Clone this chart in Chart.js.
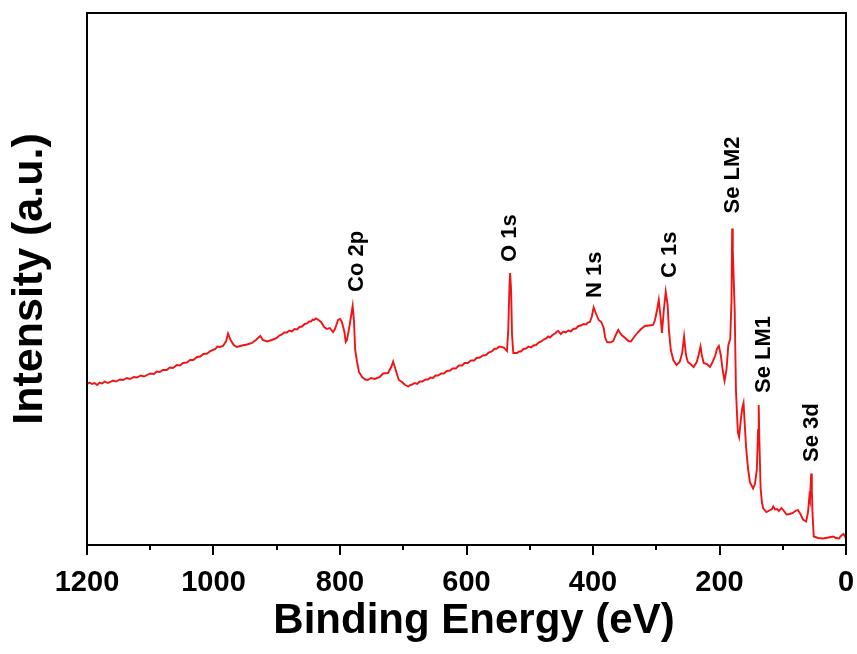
<!DOCTYPE html>
<html>
<head>
<meta charset="utf-8">
<title>XPS survey spectrum</title>
<script src="https://cdn.jsdelivr.net/npm/chart.js@4/dist/chart.umd.min.js"></script>
<style>
  html, body { margin: 0; padding: 0; background: #fff; }
  #wrap { width: 857px; height: 654px; position: relative; }
</style>
</head>
<body>
<div id="wrap"><canvas id="xps"></canvas></div>
<script>
// Survey scan: binding energy (eV) and intensity (a.u.)
const bindingEnergy = [
  1200, 1196, 1192, 1188, 1184, 1180, 1176, 1172, 1167, 1163, 1159, 1154, 1148, 1143, 1137, 1132,
  1126, 1121, 1115, 1110, 1105, 1100, 1094, 1090, 1085, 1080, 1074, 1069, 1064, 1058, 1053, 1048,
  1042, 1037, 1032, 1026, 1021, 1016, 1010, 1005, 1001, 997, 994, 990, 985, 980, 977, 973, 968,
  963, 955, 947, 939, 933, 926, 922, 915, 908, 904, 900, 896, 892, 888, 884, 880, 876, 872, 868,
  864, 860, 856, 852, 849, 846, 843, 841, 838, 835, 830, 825, 821, 816, 811, 808, 803, 800, 797,
  793, 791, 789, 786, 783, 780, 778, 776, 773, 770, 765, 760, 756, 751, 745, 737, 732, 724, 719,
  716, 711, 707, 702, 697, 692, 689, 686, 682, 678, 674, 670, 665, 661, 657, 653, 649, 645, 640,
  636, 631, 626, 622, 617, 612, 607, 603, 598, 593, 588, 584, 579, 574, 569, 565, 560, 556, 552,
  548, 545, 541, 536, 534, 532, 531, 529.5, 528, 526, 520, 517, 514, 510, 506, 502, 498, 494, 490,
  486, 482, 478, 474, 471, 468, 464, 460, 457, 455, 451, 447, 443, 439, 435, 431, 427, 423, 419,
  415, 411, 408, 405, 402, 399, 395, 391, 387, 383, 381, 378, 373, 368, 364, 360, 357, 354, 349,
  344, 340, 335, 330, 324, 318, 311, 305, 302, 299, 296, 293, 291, 288, 285, 282, 280, 277, 273,
  268, 263, 259, 256, 253, 250, 246, 241, 236, 233, 230, 228, 225, 220, 215, 211, 207, 204, 201,
  198, 195, 192, 189, 186, 183, 181, 180, 179, 176, 174, 171, 169, 166, 164, 162, 160, 158, 155,
  152, 147, 144, 141, 139, 138, 137, 135, 133, 131, 126, 121, 117, 115, 112, 109, 106, 102, 98,
  94, 89, 84, 79, 76, 72, 68, 63, 60, 58, 57, 55, 54, 53, 51, 44, 36, 28, 20, 16, 11, 8, 4, 1, 0
];
const intensity = [
  161, 162.5, 161, 162, 160, 162.5, 161.5, 163.5, 162, 163, 164.5, 163.5, 165.5, 165, 167, 166,
  168, 167.5, 169.5, 168.5, 170, 171.5, 171, 173.5, 173, 175, 175, 177.5, 177, 180, 179.5, 182,
  182.5, 185, 185, 188, 188.5, 191, 191.5, 194, 195, 196, 198.5, 198, 199, 204, 211.5, 205, 200,
  198, 199.5, 200.5, 202, 205, 209, 205, 203.5, 205, 206, 207, 209.5, 210.5, 212.5, 212.5, 214.5, 213.5, 216, 215.5,
  218, 218.5, 221, 221.5, 223.5, 223.5, 225.5, 225, 226.5, 225.5, 223, 218, 216, 217, 213, 216, 225, 226, 223,
  213, 203, 205, 215, 227, 239, 225, 195, 183, 173, 168, 165.5, 165, 167, 166, 168, 171.5, 172, 178,
  183.5, 173, 165, 163, 160, 158.5, 160, 160.5, 162, 161, 163.5, 163.5, 165.5, 165.5, 167.5, 167, 169.5, 169.5, 171.5,
  171.5, 174, 174.5, 176.5, 176.5, 179.5, 179.5, 182, 182, 184.5, 184.5, 187, 187.5, 189.5, 190, 192.5, 193.5, 196, 196.5,
  198.5, 198, 197.5, 194, 215, 260, 272, 255, 210, 192, 192, 193.5, 193.5, 196, 196.5, 198.5, 197.5, 199.5, 200,
  202.5, 203.5, 205.5, 206.5, 208.5, 207.5, 210, 211.5, 213.5, 214, 211, 213.5, 212.5, 214.5, 213.5, 216, 216.5, 219, 219.5,
  221, 220.5, 222.5, 223, 228, 237.5, 231, 225, 223, 217, 208, 203, 202.5, 204, 210, 215, 212, 209.5, 207,
  204, 203.5, 208, 212, 216, 219, 219.5, 220, 225, 234, 245, 227, 212, 235, 253.5, 240, 215, 195, 185,
  180, 183, 192, 208.5, 190, 183, 181, 178, 183, 190, 198.5, 190, 182, 181, 178, 183, 189, 196, 199,
  190, 175, 164, 175, 200, 206, 245, 316.5, 295, 235, 155, 113, 108, 127, 137, 142, 120, 98, 77,
  63, 56.5, 61, 75, 115, 140, 105, 57, 43, 37, 33, 34.5, 36, 38.5, 35.5, 36, 34, 37, 34,
  30.5, 31, 32, 34.5, 35, 31, 25.5, 23.5, 33, 48, 45, 71.5, 55, 33, 8.5, 7, 6.5, 7.5, 8.5, 7, 6.5, 9, 11, 8, 5
];

// Peak assignments and the binding energy each one marks
const peakNames = ['Co 2p', 'O 1s', 'N 1s', 'C 1s', 'Se LM2', 'Se LM1', 'Se 3d'];
const peakEnergies = [780, 531, 399, 285, 180, 138, 55];

// Bottom axis ticks
const majorTicks = [1200, 1000, 800, 600, 400, 200, 0];
const minorTicks = [1100, 900, 700, 500, 300, 100];

const FONT = '"Liberation Sans", Arial, Helvetica, sans-serif';

// label placement relative to its peak top: [dx px, gap px]
const labelOffsets = [[4.5, 14], [0, 11], [1, 9.5], [4.5, 13.5], [1, 15], [5, 12], [1, 11.5]];

const annotate = {
  id: 'annotate',
  afterDraw(chart) {
    const { ctx, chartArea: a, scales: { x, y } } = chart;
    ctx.save();
    // closed frame
    ctx.strokeStyle = '#000';
    ctx.lineWidth = 2;
    ctx.strokeRect(a.left, a.top, a.right - a.left, a.bottom - a.top);
    // outward tick marks
    const tick = (e, len) => {
      const px = Math.round(x.getPixelForValue(e));
      ctx.beginPath();
      ctx.moveTo(px, a.bottom);
      ctx.lineTo(px, a.bottom + len);
      ctx.stroke();
    };
    majorTicks.forEach(e => tick(e, 10));
    minorTicks.forEach(e => tick(e, 5));

    // peak labels, rotated
    ctx.fillStyle = '#000';
    ctx.font = 'bold 22px ' + FONT;
    ctx.textAlign = 'left';
    ctx.textBaseline = 'middle';
    peakNames.forEach((name, i) => {
      const idx = bindingEnergy.indexOf(peakEnergies[i]);
      const top = idx >= 0 ? intensity[idx] : 0;
      const px = x.getPixelForValue(peakEnergies[i]) + labelOffsets[i][0];
      const py = y.getPixelForValue(top) - labelOffsets[i][1];
      ctx.save();
      ctx.translate(px, py);
      ctx.rotate(-Math.PI / 2);
      ctx.fillText(name, 0, 0);
      ctx.restore();
    });

    // x axis title
    ctx.font = 'bold 42px ' + FONT;
    ctx.textAlign = 'center';
    ctx.textBaseline = 'alphabetic';
    ctx.fillText('Binding Energy (eV)', 474, 633);
    ctx.restore();
  }
};

new Chart(document.getElementById('xps'), {
  type: 'line',
  data: {
    datasets: [{
      data: bindingEnergy.map((e, i) => ({ x: e, y: intensity[i] })),
      borderColor: '#f01414',
      borderWidth: 1.9,
      pointRadius: 0,
      tension: 0,
      fill: false
    }]
  },
  options: {
    responsive: true,
    maintainAspectRatio: false,
    animation: false,
    devicePixelRatio: 1,
    layout: { padding: { top: 13, right: 11, left: 0, bottom: 0 } },
    plugins: { legend: { display: false }, tooltip: { enabled: false } },
    scales: {
      x: {
        type: 'linear',
        reverse: true,
        min: 0,
        max: 1200,
        afterBuildTicks(scale) { scale.ticks = majorTicks.map(v => ({ value: v })); },
        afterFit(scale) {
          scale.height = 109;
          scale.paddingLeft = 0;
          scale.paddingRight = 0;
        },
        border: { display: false },
        grid: { display: false, drawTicks: true, tickLength: 10 },
        ticks: {
          color: '#000',
          padding: 11,
          maxRotation: 0,
          callback: v => String(v),
          font: { family: FONT, size: 29, weight: 'bold' }
        }
      },
      y: {
        min: 0,
        max: 532,
        afterFit(scale) { scale.width = 87; },
        border: { display: false },
        grid: { display: false },
        ticks: { display: false },
        title: {
          display: true,
          text: 'Intensity (a.u.)',
          color: '#000',
          padding: { top: 4, bottom: 0 },
          font: { family: FONT, size: 43, weight: 'bold' }
        }
      }
    }
  },
  plugins: [annotate]
});
</script>
</body>
</html>
